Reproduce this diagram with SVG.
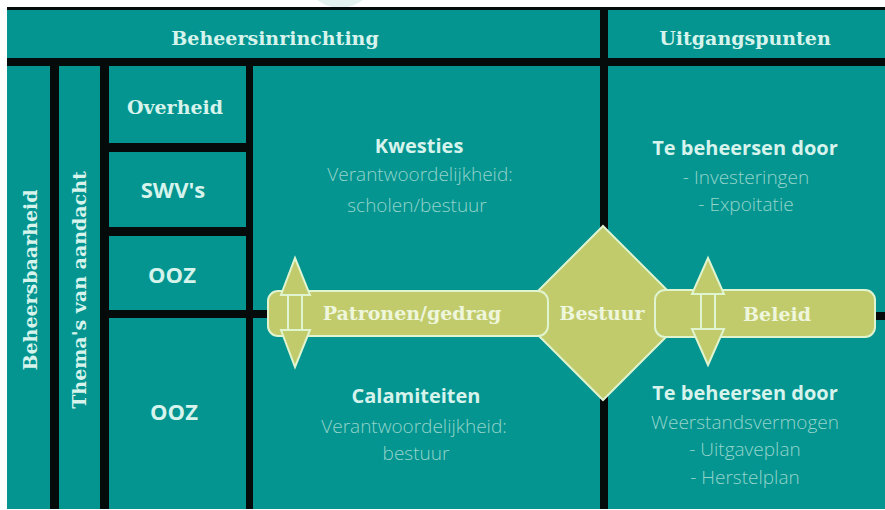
<svg xmlns="http://www.w3.org/2000/svg" width="885" height="510" viewBox="0 0 885 510">
<style>
.cell{fill:#049590}
.slab{font-family:"DejaVu Serif","Liberation Serif",serif;font-weight:bold;fill:#d6f3ec;text-anchor:middle;font-size:19px}
.hd{font-family:"Open Sans",Roboto,"Liberation Sans",sans-serif;font-weight:bold;fill:#d6f3ec;text-anchor:middle;font-size:20px}
.lc{font-family:"Open Sans",Roboto,"Liberation Sans",sans-serif;font-weight:bold;fill:#d6f3ec;text-anchor:middle;font-size:22px}
.bd{font-family:"Open Sans",Roboto,"Liberation Sans",sans-serif;font-weight:300;fill:#93d4cb;text-anchor:middle;font-size:19px}
.bar{fill:#c2cb6c;stroke:#dff4cf;stroke-width:2}
.sh{stroke:#dff4cf;stroke-width:2}
.bt{font-family:"DejaVu Serif","Liberation Serif",serif;font-weight:bold;fill:#eef6dc;text-anchor:middle;font-size:19px}
</style>
<rect x="0" y="0" width="885" height="510" fill="#ffffff"/>
<circle cx="340" cy="-28" r="36" fill="#e3f1ef"/>
<rect x="7" y="7" width="878" height="502" fill="#050a0a"/>
<g id="header-beheersinrichting"><rect class="cell" x="7" y="10" width="593" height="48"/><text class="slab" x="275" y="45">Beheersinrinchting</text></g>
<g id="header-uitgangspunten"><rect class="cell" x="608" y="10" width="277" height="48"/><text class="slab" x="745" y="45">Uitgangspunten</text></g>
<g id="beheersbaarheid"><rect class="cell" x="7" y="66" width="43" height="443"/><text class="slab" transform="translate(37 280) rotate(-90)">Beheersbaarheid</text></g>
<g id="themas"><rect class="cell" x="59" y="66" width="41" height="443"/><text class="slab" transform="translate(86 290) rotate(-90)">Thema's van aandacht</text></g>
<g id="overheid"><rect class="cell" x="109" y="66" width="137" height="77"/><text class="slab" x="175" y="114">Overheid</text></g>
<g id="swvs"><rect class="cell" x="109" y="152" width="137" height="75"/><text class="lc" x="173" y="198">SWV's</text></g>
<g id="ooz1"><rect class="cell" x="109" y="236" width="137" height="74"/><text class="lc" x="172" y="283">OOZ</text></g>
<g id="ooz2"><rect class="cell" x="109" y="318" width="137" height="191"/><text class="lc" x="174" y="420">OOZ</text></g>
<g id="middle"><rect class="cell" x="253" y="66" width="347" height="443"/>
<text class="hd" x="419" y="153">Kwesties</text>
<text class="bd" x="420" y="181">Verantwoordelijkheid:</text>
<text class="bd" x="417" y="212">scholen/bestuur</text>
<text class="hd" x="416" y="403">Calamiteiten</text>
<text class="bd" x="414" y="433">Verantwoordelijkheid:</text>
<text class="bd" x="416" y="460">bestuur</text>
</g>
<g id="right"><rect class="cell" x="608" y="66" width="277" height="443"/>
<text class="hd" x="745" y="155">Te beheersen door</text>
<text class="bd" x="746" y="184">- Investeringen</text>
<text class="bd" x="746" y="211">- Expoitatie</text>
<text class="hd" x="745" y="400">Te beheersen door</text>
<text class="bd" x="745" y="429">Weerstandsvermogen</text>
<text class="bd" x="745" y="456">- Uitgaveplan</text>
<text class="bd" x="745" y="484">- Herstelplan</text>
</g>
<g id="connectors">
<rect x="253" y="310" width="20" height="8" fill="#050a0a"/>
<rect x="870" y="312" width="15" height="8" fill="#050a0a"/>
</g>
<g id="bestuur">
<polygon class="bar" points="603,226 690,313 603,400 516,313"/>
<text class="bt" x="602" y="320" font-size="17">Bestuur</text>
</g>
<g id="patronen">
<rect class="bar" x="268" y="291" width="280" height="45" rx="10"/>
<text class="bt" x="412" y="320">Patronen/gedrag</text>
<polygon class="bar" points="295,258 310,295 281,295"/>
<polygon class="bar" points="295,367 310,330 281,330"/>
<line class="sh" x1="288" y1="295" x2="288" y2="330"/>
<line class="sh" x1="302" y1="295" x2="302" y2="330"/>
</g>
<g id="beleid">
<rect class="bar" x="655" y="290" width="220" height="47" rx="10"/>
<text class="bt" x="777" y="321">Beleid</text>
<polygon class="bar" points="708,258 724,294 692,294"/>
<polygon class="bar" points="708,365 724,329 692,329"/>
<line class="sh" x1="701" y1="294" x2="701" y2="329"/>
<line class="sh" x1="715" y1="294" x2="715" y2="329"/>
</g>
</svg>
